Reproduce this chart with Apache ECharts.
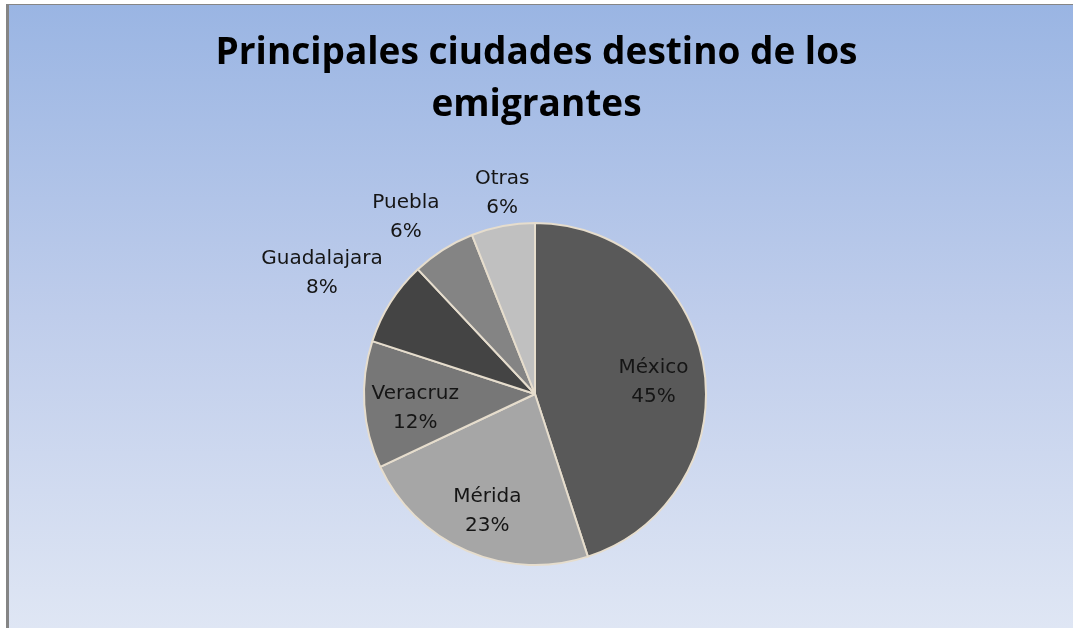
<!DOCTYPE html>
<html>
<head>
<meta charset="utf-8">
<title>Principales ciudades destino de los emigrantes</title>
<script src="https://cdn.jsdelivr.net/npm/echarts@6/dist/echarts.min.js"></script>
<style>
  html, body { margin: 0; padding: 0; background: #fff; }
  #frame {
    position: absolute;
    left: 6px;
    top: 4px;
    width: 1067px;
    height: 624px;
    border-left: 3px solid #858585;
    border-top: 1px solid #858585;
    box-sizing: border-box;
    background: linear-gradient(to bottom, #9ab5e3 0%, #bfcdeb 50%, #dfe6f4 100%);
  }
  #chart {
    position: absolute;
    left: 0;
    top: 0;
    width: 1073px;
    height: 628px;
  }
</style>
</head>
<body>
<div id="frame"></div>
<div id="chart"></div>
<script>
// 数据
const ciudades = ['México', 'Mérida', 'Veracruz', 'Guadalajara', 'Puebla', 'Otras']
const porcentajes = [45, 23, 12, 8, 6, 6]
const colores = ['#595959', '#a6a6a6', '#777777', '#444444', '#848484', '#c0c0c0']

// 标签位置：内部 / 外部
const posiciones = ['inside', 'inside', 'inside', 'outside', 'outside', 'outside']
const largoLinea = [0, 0, 0, 60, 42, 36]
const largoLinea2 = [0, 0, 0, 18, 15, -6]

const myChart = echarts.init(document.getElementById('chart'))

const sectores = ciudades.map((name, i) => ({
  name: name,
  value: porcentajes[i],
  itemStyle: { color: colores[i] }
}))

const etiquetas = ciudades.map((name, i) => ({
  name: name,
  value: porcentajes[i],
  label: { position: posiciones[i] },
  labelLine: { show: false, length: largoLinea[i], length2: largoLinea2[i] }
}))

const option = {
  backgroundColor: 'transparent',
  animation: false,
  title: {
    text: 'Principales ciudades destino de los\nemigrantes',
    left: 'center',
    top: 22,
    textStyle: {
      fontFamily: 'Open Sans',
      fontWeight: 'bold',
      fontSize: 37,
      lineHeight: 52,
      color: '#000'
    }
  },
  series: [
    {
      // 扇形
      type: 'pie',
      center: [535, 394],
      radius: [0, 171],
      startAngle: 90,
      clockwise: true,
      silent: true,
      label: { show: false },
      labelLine: { show: false },
      itemStyle: {
        borderColor: '#e6ddcd',
        borderWidth: 2
      },
      data: sectores
    },
    {
      // 透明的一层，只用来放标签
      type: 'pie',
      center: [535, 394],
      radius: [63, 171],
      startAngle: 90,
      clockwise: true,
      silent: true,
      avoidLabelOverlap: false,
      itemStyle: { color: 'rgba(0,0,0,0)' },
      label: {
        show: true,
        formatter: '{b}\n{d}%',
        fontFamily: 'DejaVu Sans',
        fontSize: 20,
        lineHeight: 29,
        color: '#151515',
        distanceToLabelLine: 0
      },
      labelLayout: function (params) {
        return {
          align: 'center',
          dy: posiciones[params.dataIndex] === 'inside' ? 7 : 3
        }
      },
      data: etiquetas
    }
  ]
}

myChart.setOption(option)
</script>
</body>
</html>
